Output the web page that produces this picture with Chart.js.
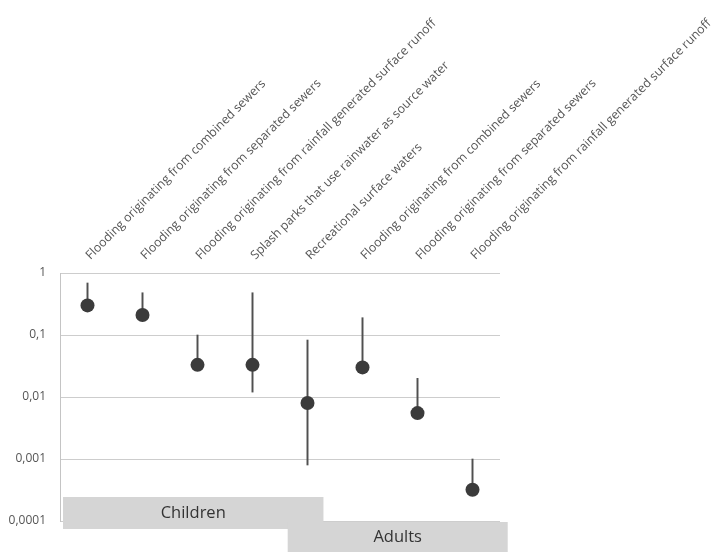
<!DOCTYPE html>
<html>
<head>
<meta charset="utf-8">
<script src="https://cdn.jsdelivr.net/npm/chart.js@4.4.1/dist/chart.umd.min.js"></script>
<style>
  html, body { margin: 0; padding: 0; background: #ffffff; }
  #wrap { width: 712px; height: 554px; position: relative; }
</style>
</head>
<body>
<div id="wrap"><canvas id="c" width="712" height="554"></canvas></div>
<script>
// Exposure routes (children first, then adults)
const categories = [
  'Flooding originating from combined sewers',
  'Flooding originating from separated sewers',
  'Flooding originating from rainfall generated surface runoff',
  'Splash parks that use rainwater as source water',
  'Recreational surface waters',
  'Flooding originating from combined sewers',
  'Flooding originating from separated sewers',
  'Flooding originating from rainfall generated surface runoff'
];

// Point estimates and uncertainty interval (log scale)
const estimate = [0.30, 0.21, 0.033, 0.033, 0.0080, 0.030, 0.0055, 0.00032];
const lower    = [0.30, 0.21, 0.033, 0.012, 0.00080, 0.030, 0.0055, 0.00032];
const upper    = [0.69, 0.48, 0.10, 0.48, 0.083, 0.19, 0.020, 0.0010];

// Population groups and the category indices they cover
const groupNames = ['Children', 'Adults'];
const groupRanges = [[0, 4], [5, 7]];

// Y axis decades and their labels (decimal comma)
const yTickValues = [0.0001, 0.001, 0.01, 0.1, 1];
const yTickLabels = ['0,0001', '0,001', '0,01', '0,1', '1'];

const labelColor = '#555555';

// Rotated category labels above the plot
const topLabels = {
  id: 'topLabels',
  afterDraw(chart) {
    const { ctx, chartArea } = chart;
    const xs = chart.scales.x;
    ctx.save();
    ctx.font = '12.3px "Open Sans", sans-serif';
    ctx.fillStyle = labelColor;
    ctx.textAlign = 'left';
    ctx.textBaseline = 'alphabetic';
    categories.forEach((name, i) => {
      const x = xs.getPixelForValue(i);
      ctx.save();
      ctx.translate(x + 3, chartArea.top - 13);
      ctx.rotate(-Math.PI / 4);
      ctx.fillText(name, 0, 0);
      ctx.restore();
    });
    ctx.restore();
  }
};

// Grey group bands under the plot
const groupBands = {
  id: 'groupBands',
  afterDatasetsDraw(chart) {
    const { ctx, chartArea } = chart;
    const xs = chart.scales.x;
    const step = xs.getPixelForValue(1) - xs.getPixelForValue(0);
    const bands = [
      { x0: chartArea.left + 3, x1: xs.getPixelForValue(groupRanges[0][1]) + step * 0.29, y0: chartArea.bottom - 24, y1: chartArea.bottom + 8 },
      { x0: xs.getPixelForValue(groupRanges[1][0]) - step * 1.36, x1: xs.getPixelForValue(groupRanges[1][1]) + step * 0.64, y0: chartArea.bottom + 1, y1: chartArea.bottom + 31 }
    ];
    ctx.save();
    bands.forEach((b) => {
      ctx.fillStyle = '#d5d5d5';
      ctx.fillRect(b.x0, b.y0, b.x1 - b.x0, b.y1 - b.y0);
    });
    ctx.font = '16.5px "Open Sans", sans-serif';
    ctx.fillStyle = '#333333';
    ctx.textAlign = 'center';
    ctx.textBaseline = 'middle';
    bands.forEach((b, i) => {
      ctx.fillText(groupNames[i], (b.x0 + b.x1) / 2, (b.y0 + b.y1) / 2);
    });
    ctx.restore();
  }
};

new Chart(document.getElementById('c'), {
  data: {
    labels: categories.map((_, i) => String(i)),
    datasets: [
      {
        type: 'bar',
        data: lower.map((lo, i) => [lo, upper[i]]),
        backgroundColor: '#505050',
        barThickness: 1.3,
        borderWidth: 0,
        order: 2
      },
      {
        type: 'line',
        data: estimate,
        showLine: false,
        pointRadius: 7,
        pointBackgroundColor: '#3b3b3b',
        pointBorderWidth: 0,
        order: 1
      }
    ]
  },
  options: {
    responsive: false,
    animation: false,
    layout: { padding: { left: 0, top: 273, right: 212, bottom: 33 } },
    plugins: { legend: { display: false }, tooltip: { enabled: false } },
    scales: {
      x: {
        type: 'category',
        display: false,
        offset: true
      },
      y: {
        type: 'logarithmic',
        min: 0.0001,
        max: 1,
        afterFit(scale) { scale.width = 60; },
        afterBuildTicks(scale) { scale.ticks = yTickValues.map(v => ({ value: v })); },
        ticks: {
          padding: 14,
          color: labelColor,
          font: { family: '"Open Sans", sans-serif', size: 12 },
          callback: (v) => yTickLabels[yTickValues.indexOf(v)] ?? ''
        },
        grid: { color: '#cdcdcd', lineWidth: 1, drawTicks: false },
        border: { display: true, color: '#c4c4c4', width: 1 }
      }
    }
  },
  plugins: [topLabels, groupBands]
});
</script>
</body>
</html>
